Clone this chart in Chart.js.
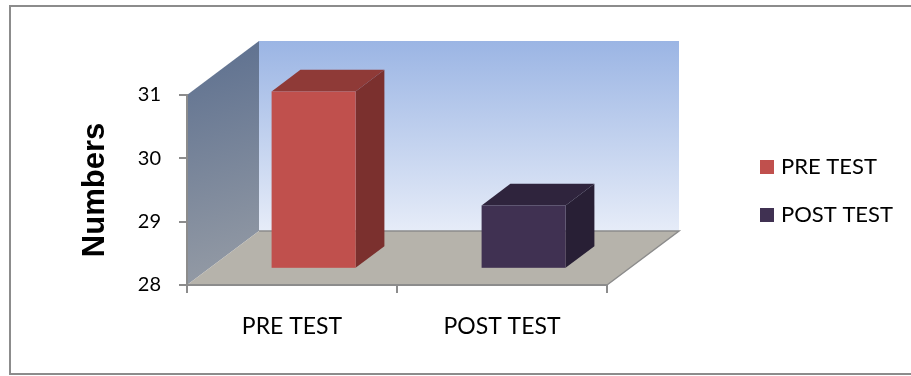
<!DOCTYPE html>
<html>
<head>
<meta charset="utf-8">
<script src="https://cdn.jsdelivr.net/npm/chart.js@4/dist/chart.umd.min.js"></script>
<style>
  html, body { margin: 0; padding: 0; background: #fff; }
  #wrap { width: 911px; height: 376px; position: relative; }
</style>
</head>
<body>
<div id="wrap"><canvas id="c"></canvas></div>
<script>
// Test scores
const categories = ['PRE TEST', 'POST TEST'];
const scores = [30.8, 29.0];
const valueRange = [28, 31];
const legendLabels = ['PRE TEST', 'POST TEST'];

// Face shading for each bar (front / right side / top)
const faceColors = {
  front: ['#c0504d', '#403152'],
  side:  ['#7b302e', '#281f35'],
  top:   ['#8f3a37', '#2f243d']
};
const DEPTH = { x: 72, y: -54 };   // full depth of the box walls, px
const BAR_Z = [0.3, 0.7];          // bar occupies the middle of the depth
const EDGE = '#8c8c8c';
const TEXT_FONT = 'Lato, "Open Sans", sans-serif';

const box3d = {
  id: 'box3d',
  beforeDraw(chart) {
    const { ctx, chartArea: a } = chart;
    const L = a.left, R = a.right, T = a.top, B = a.bottom;
    const dx = DEPTH.x, dy = DEPTH.y;
    ctx.save();
    ctx.fillStyle = '#fff';
    ctx.fillRect(0, 0, chart.width, chart.height);

    // outer frame
    ctx.strokeStyle = EDGE;
    ctx.lineWidth = 2;
    ctx.strokeRect(10, 6, chart.width + 20, 368);

    // back wall
    let g = ctx.createLinearGradient(0, T + dy, 0, B + dy);
    g.addColorStop(0, '#9bb5e4');
    g.addColorStop(1, '#e6ecf8');
    ctx.fillStyle = g;
    ctx.fillRect(L + dx, T + dy, R - L, B - T);

    // side wall
    g = ctx.createLinearGradient(L, T + dy, L + dx, B);
    g.addColorStop(0, '#5c6f8f');
    g.addColorStop(1, '#979da6');
    ctx.fillStyle = g;
    ctx.beginPath();
    ctx.moveTo(L, B);
    ctx.lineTo(L, T);
    ctx.lineTo(L + dx, T + dy);
    ctx.lineTo(L + dx, B + dy);
    ctx.closePath();
    ctx.fill();

    // floor
    ctx.fillStyle = '#b6b3ab';
    ctx.beginPath();
    ctx.moveTo(L, B);
    ctx.lineTo(L + dx, B + dy);
    ctx.lineTo(R + dx, B + dy);
    ctx.lineTo(R, B);
    ctx.closePath();
    ctx.fill();

    ctx.strokeStyle = EDGE;
    ctx.lineWidth = 1.5;
    ctx.beginPath();
    ctx.moveTo(L + dx, B + dy);
    ctx.lineTo(R + dx, B + dy);
    ctx.lineTo(R, B);
    ctx.stroke();
    ctx.restore();
  },
  beforeDatasetDraw() {
    return false; // bars are drawn as prisms below
  },
  afterDatasetsDraw(chart) {
    const { ctx } = chart;
    const meta = chart.getDatasetMeta(0);
    const fx = DEPTH.x * BAR_Z[0], fy = DEPTH.y * BAR_Z[0];
    const bx = DEPTH.x * BAR_Z[1], by = DEPTH.y * BAR_Z[1];
    ctx.save();
    meta.data.forEach((bar, i) => {
      const p = bar.getProps(['x', 'y', 'base', 'width'], true);
      const l = p.x - p.width / 2, r = p.x + p.width / 2;
      const top = p.y, base = p.base;
      // top face
      ctx.fillStyle = faceColors.top[i];
      ctx.beginPath();
      ctx.moveTo(l + fx, top + fy);
      ctx.lineTo(l + bx, top + by);
      ctx.lineTo(r + bx, top + by);
      ctx.lineTo(r + fx, top + fy);
      ctx.closePath();
      ctx.fill();
      // right face
      ctx.fillStyle = faceColors.side[i];
      ctx.beginPath();
      ctx.moveTo(r + fx, top + fy);
      ctx.lineTo(r + bx, top + by);
      ctx.lineTo(r + bx, base + by);
      ctx.lineTo(r + fx, base + fy);
      ctx.closePath();
      ctx.fill();
      // front face
      ctx.fillStyle = faceColors.front[i];
      ctx.fillRect(l + fx, top + fy, r - l, base - top);
    });
    ctx.restore();
  },
  afterDraw(chart) {
    const { ctx } = chart;
    ctx.save();
    ctx.font = '22px ' + TEXT_FONT;
    ctx.textBaseline = 'middle';
    ctx.textAlign = 'left';
    legendLabels.forEach((label, i) => {
      const y = 167 + i * 48;
      ctx.fillStyle = faceColors.front[i];
      ctx.fillRect(760, y - 7, 14, 14);
      ctx.fillStyle = '#000';
      ctx.fillText(label, 781, y);
    });
    ctx.restore();
  }
};

new Chart(document.getElementById('c'), {
  type: 'bar',
  data: {
    labels: categories,
    datasets: [{
      label: 'Score',
      data: scores,
      base: valueRange[0],
      backgroundColor: faceColors.front,
      categoryPercentage: 1,
      barPercentage: 0.4
    }]
  },
  options: {
    responsive: true,
    maintainAspectRatio: false,
    animation: false,
    events: [],
    layout: { padding: { left: 10, right: 304, top: 95, bottom: 0 } },
    plugins: { legend: { display: false }, tooltip: { enabled: false } },
    scales: {
      x: {
        offset: true,
        grid: { offset: true, drawOnChartArea: false, drawTicks: true, tickLength: 8, color: EDGE, lineWidth: 2 },
        border: { display: true, color: EDGE, width: 2 },
        ticks: { color: '#000', font: { family: TEXT_FONT, size: 23 }, padding: 20, maxRotation: 0 },
        afterFit(scale) { scale.height = 91; }
      },
      y: {
        min: valueRange[0],
        max: valueRange[1],
        beginAtZero: false,
        grid: { drawOnChartArea: false, drawTicks: true, tickLength: 8, color: EDGE, lineWidth: 2 },
        border: { display: true, color: EDGE, width: 2 },
        ticks: { stepSize: 1, color: '#000', font: { family: TEXT_FONT, size: 20 }, padding: 18 },
        title: {
          display: true,
          text: 'Numbers',
          color: '#000',
          font: { family: '"Liberation Sans", Arial, sans-serif', size: 31, weight: 'bold' },
          padding: { top: 67, bottom: 0 }
        },
        afterFit(scale) { scale.width = 177; }
      }
    }
  },
  plugins: [box3d]
});
</script>
</body>
</html>
